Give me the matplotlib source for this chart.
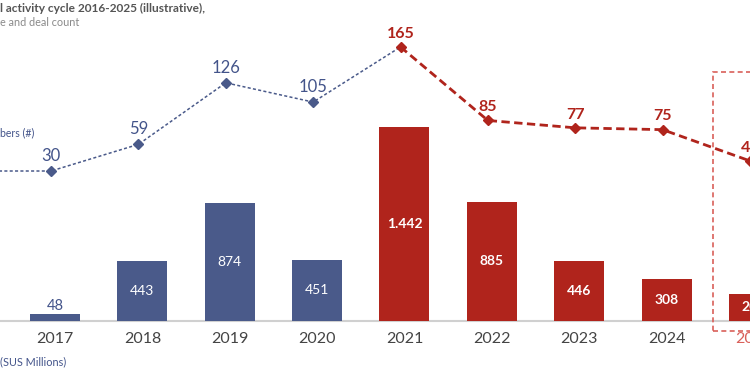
import matplotlib
matplotlib.use("Agg")
import matplotlib.pyplot as plt
from matplotlib.patches import Rectangle

plt.rcParams["font.family"] = ["Lato", "DejaVu Sans"]

years = [2016, 2017, 2018, 2019, 2020, 2021, 2022, 2023, 2024, 2025]
deal_value = [60, 48, 443, 874, 451, 1442, 885, 446, 308, 201]
value_labels = ["60", "48", "443", "874", "451", "1.442", "885", "446", "308", "201"]
deal_count = [30, 30, 59, 126, 105, 165, 85, 77, 75, 41]
split_year = 2021

BLUE = "#4a5a8a"
BLUE_TXT = "#43548a"
RED = "#b0241c"
RED_LIGHT = "#d9605a"

fig = plt.figure(figsize=(7.5, 3.75), dpi=100)
ax = fig.add_axes([0, 0, 1, 1])
ax2 = fig.add_axes([0, 0, 1, 1])
ax2.patch.set_alpha(0)

for a in (ax, ax2):
    for s in a.spines.values():
        s.set_visible(False)
    a.set_xticks([])
    a.set_yticks([])

# year labels
xt = ax.get_xaxis_transform()
for y in years:
    ax.text(y, 1 - 339 / 375, str(y), transform=xt, ha="center", va="center",
            fontsize=11.5, color=RED_LIGHT if y == 2025 else "#444444", clip_on=False)

# bars
for y, v, t in zip(years, deal_value, value_labels):
    c = BLUE if y < split_year else RED
    ax.bar(y, v, width=0.572, color=c, zorder=2)
    if y < split_year:
        if v < 150:
            ax.text(y, v + 12, t, ha="center", va="bottom", fontsize=10.5, color=BLUE_TXT)
        else:
            ax.text(y, v / 2, t, ha="center", va="center", fontsize=10, color="white")
    else:
        ax.text(y, v / 2, t, ha="center", va="center", fontsize=10, color="white", fontweight="bold")

ax.axhline(0, color="#d0d0d0", lw=1.5, zorder=1)

# line
blue_x = [y for y in years if y <= split_year]
blue_y = deal_count[:len(blue_x)]
red_x = [y for y in years if y >= split_year]
red_y = deal_count[len(blue_x) - 1:]
ax2.plot(blue_x, blue_y, color=BLUE, lw=1.1, ls=(0, (2, 1.5)), zorder=3)
ax2.plot(red_x, red_y, color=RED, lw=2.0, ls=(0, (3, 1.6)), zorder=3)
for y, c in zip(years, deal_count):
    col = BLUE if y < split_year else RED
    ax2.plot(y, c, marker="D", ms=5, color=col, zorder=4)
    if y < split_year:
        ax2.annotate(str(c), (y, c), xytext=(0, 5), textcoords="offset points",
                     ha="center", va="bottom", fontsize=12, color=BLUE_TXT)
    else:
        ax2.annotate(str(c), (y, c), xytext=(0, 4.5), textcoords="offset points",
                     ha="center", va="bottom", fontsize=11.5, color=RED, fontweight="bold",
                     annotation_clip=False)

# dashed forecast box
ax.add_patch(Rectangle((2024.53, -75), 1.2, 1925, fill=False, ec=RED_LIGHT,
                       lw=1.2, ls=(0, (3, 2)), zorder=1, clip_on=True))

ax.set_ylim(-403, 2386)
ax2.set_ylim(-192, 216.1)
ax.set_xlim(2016.3704, 2024.9555)
ax2.set_xlim(2016.3704 + 0.045, 2024.9555 + 0.045)

fig.text(0, 1 - 8 / 375, "l activity cycle 2016-2025 (illustrative),", ha="left", va="center",
         fontsize=8.6, fontweight="bold", color="#555555")
fig.text(0, 1 - 23 / 375, "e and deal count", ha="left", va="center",
         fontsize=7.8, color="#8a8a8a")
fig.text(0, 1 - 133 / 375, "bers (#)", ha="left", va="center", fontsize=7.6, color=BLUE_TXT)
fig.text(0, 1 - 362 / 375, "(SUS Millions)", ha="left", va="center", fontsize=7.8, color=BLUE_TXT)

fig.savefig("out.png", dpi=100)
